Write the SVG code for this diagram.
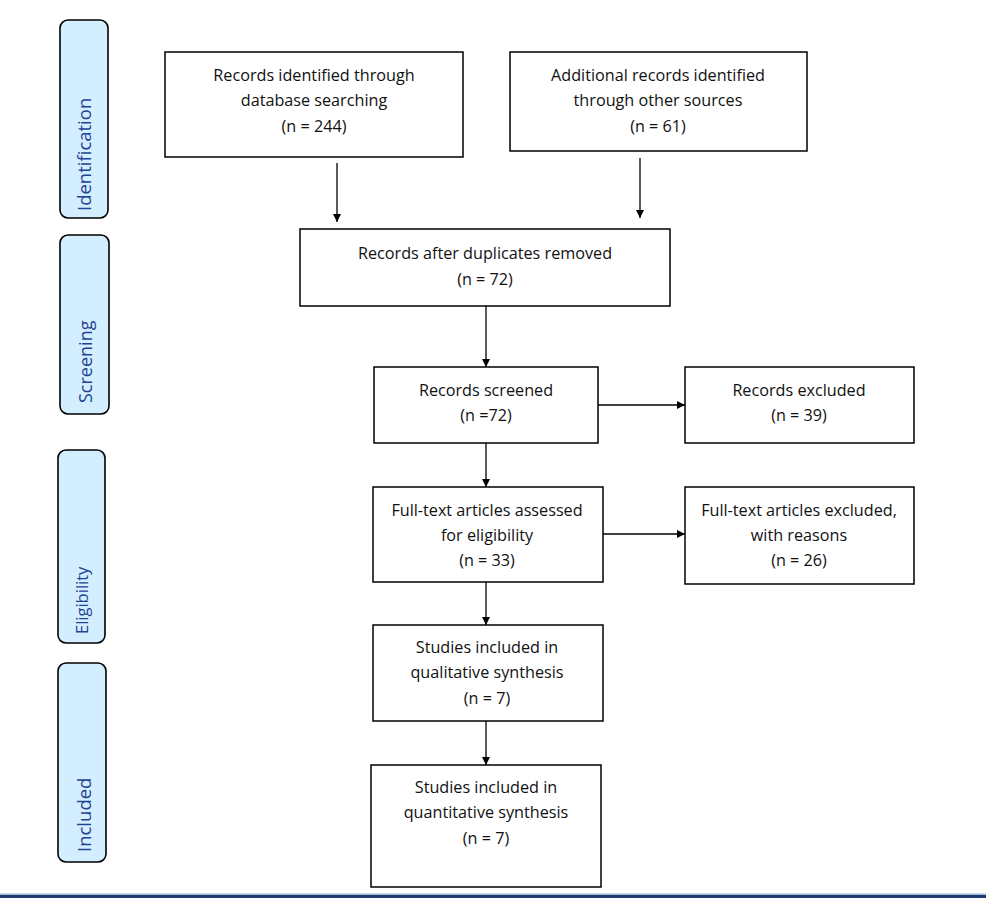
<svg xmlns="http://www.w3.org/2000/svg" width="986" height="898" viewBox="0 0 986 898">
<style>
.box{fill:#fff;stroke:#000;stroke-width:1.5}
.side{fill:#d3eeff;stroke:#000;stroke-width:1.6}
.t{font-family:"Open Sans","Liberation Sans",sans-serif;font-size:16.2px;fill:#111;text-anchor:middle}
.s{font-family:"Open Sans","Liberation Sans",sans-serif;font-size:18.5px;fill:#1f4496;text-anchor:start}
.c{stroke:#000;stroke-width:1.3;fill:none;marker-end:url(#ah)}
</style>
<defs>
<marker id="ah" viewBox="0 0 10 10" refX="10" refY="5" markerWidth="8" markerHeight="8" markerUnits="userSpaceOnUse" orient="auto">
<path d="M0,0 L10,5 L0,10 z" fill="#000"/>
</marker>
</defs>
<rect width="986" height="898" fill="#fff"/>
<g id="phase-identification"><rect class="side" x="60" y="20" width="48" height="198" rx="8"/><text class="s" transform="translate(91,211) rotate(-90)">Identification</text></g>
<g id="phase-screening"><rect class="side" x="60" y="235" width="49" height="179" rx="8"/><text class="s" style="font-size:18px" transform="translate(92,403) rotate(-90)">Screening</text></g>
<g id="phase-eligibility"><rect class="side" x="58" y="450" width="47" height="193" rx="8"/><text class="s" style="font-size:16.5px" transform="translate(88,634) rotate(-90)">Eligibility</text></g>
<g id="phase-included"><rect class="side" x="58" y="663" width="48" height="199" rx="8"/><text class="s" transform="translate(91,852) rotate(-90)">Included</text></g>

<g id="n1"><rect class="box" x="165" y="52" width="298" height="105"/><text class="t" x="314" y="81">Records identified through</text><text class="t" x="314" y="106">database searching</text><text class="t" x="314" y="132">(n = 244)</text></g>
<g id="n2"><rect class="box" x="510" y="52" width="297" height="99"/><text class="t" x="658" y="81">Additional records identified</text><text class="t" x="658" y="106">through other sources</text><text class="t" x="658" y="132">(n = 61)</text></g>
<g id="n3"><rect class="box" x="300" y="229" width="370" height="77"/><text class="t" x="485" y="259">Records after duplicates removed</text><text class="t" x="485" y="285">(n = 72)</text></g>
<g id="n4"><rect class="box" x="374" y="367" width="224" height="76"/><text class="t" x="486" y="396">Records screened</text><text class="t" x="486" y="421">(n =72)</text></g>
<g id="n5"><rect class="box" x="685" y="367" width="229" height="76"/><text class="t" x="799" y="396">Records excluded</text><text class="t" x="799" y="421">(n = 39)</text></g>
<g id="n6"><rect class="box" x="373" y="487" width="230" height="95"/><text class="t" x="487" y="516">Full-text articles assessed</text><text class="t" x="487" y="541">for eligibility</text><text class="t" x="487" y="566">(n = 33)</text></g>
<g id="n7"><rect class="box" x="685" y="487" width="229" height="97"/><text class="t" x="799" y="516">Full-text articles excluded,</text><text class="t" x="799" y="541">with reasons</text><text class="t" x="799" y="566">(n = 26)</text></g>
<g id="n8"><rect class="box" x="373" y="625" width="230" height="96"/><text class="t" x="487" y="653">Studies included in</text><text class="t" x="487" y="678">qualitative synthesis</text><text class="t" x="487" y="704">(n = 7)</text></g>
<g id="n9"><rect class="box" x="371" y="765" width="230" height="122"/><text class="t" x="486" y="793">Studies included in</text><text class="t" x="486" y="818">quantitative synthesis</text><text class="t" x="486" y="844">(n = 7)</text></g>

<g id="connectors">
<line class="c" x1="337" y1="163" x2="337" y2="222"/>
<line class="c" x1="640" y1="158" x2="640" y2="218"/>
<line class="c" x1="486" y1="306" x2="486" y2="367"/>
<line class="c" x1="598" y1="405" x2="685" y2="405"/>
<line class="c" x1="486" y1="443" x2="486" y2="487"/>
<line class="c" x1="603" y1="534" x2="685" y2="534"/>
<line class="c" x1="486" y1="582" x2="486" y2="625"/>
<line class="c" x1="486" y1="721" x2="486" y2="765"/>
</g>
<rect x="0" y="893.5" width="986" height="1.5" fill="#9cb8d8"/>
<rect x="0" y="895" width="986" height="3" fill="#1f3a6e"/>
</svg>
